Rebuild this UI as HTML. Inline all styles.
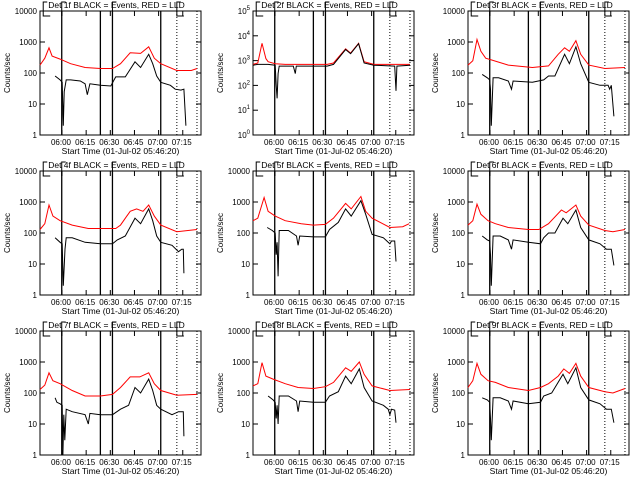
<!DOCTYPE html>
<html><head><meta charset="utf-8"><style>
html,body{margin:0;padding:0;background:#fff;}
svg{display:block;font-family:"Liberation Sans",sans-serif;}
</style></head><body>
<svg id="chart" width="640" height="480" viewBox="0 0 640 480"></svg>
<script>
const detNames = ["1f","2f","3f","4f","5f","6f","7f","8f","9f"];
const tickLabels = ["06:00","06:15","06:30","06:45","07:00","07:15"];
const tickMinutes = [13.67,28.67,43.67,58.67,73.67,88.67];
const solidMarkers = [13.5,37.5,45,75];
const dottedMarkers = [85,97.5];
const yDecadesStd = [0,1,2,3,4];
const yDecadesP2 = [0,1,2,3,4,5];
const red1 = [[0,180],[3,300],[5.6,650],[7.5,350],[12.5,280],[19,200],[28,150],[37.5,140],[45,140],[50,200],[56,450],[62.5,430],[67.5,700],[71,300],[75,200],[85,120],[94,120],[97.5,140]];
const black1 = [[9.4,80],[12.5,60],[13.8,50],[14.5,2],[15,25],[16.3,60],[19,60],[25,55],[28,45],[29.4,20],[31,45],[37.5,40],[44,38],[47,75],[53,75],[59,230],[62.5,150],[67.5,400],[70,200],[72.5,80],[75,50],[81,40],[84,30],[87.5,28],[89.4,30],[90.6,2]];
const red2 = [[0,700],[3,800],[5.6,5000],[8,1200],[9.4,900],[13.8,750],[20,700],[46,700],[50,800],[57.5,3000],[60.6,2000],[65.6,5000],[69,900],[75,700],[97.5,700]];
const black2 = [[0,650],[3,700],[5.6,700],[9.4,700],[13.8,650],[14.4,100],[15,30],[15.6,300],[16.3,600],[25,600],[26.3,300],[26.9,600],[46,600],[50,700],[57.5,2800],[60.6,1900],[65.6,4800],[69,800],[75,650],[88,600],[88.8,60],[89.4,600],[97.5,650]];
const red3 = [[0,180],[3,250],[5.6,1200],[8,500],[11,300],[15,260],[25,180],[40,150],[50,170],[56,400],[60,650],[63,500],[67,1100],[70,400],[75,180],[85,140],[97.5,150]];
const black3 = [[8.8,90],[12,70],[13.5,60],[14,30],[14.5,2],[15.6,70],[19,70],[25,55],[27,30],[28,55],[40,50],[47,60],[50,80],[54,80],[60,400],[63,200],[67,700],[70,200],[75,50],[82,40],[87,40],[88,30],[89,40],[90.6,4]];
const red4 = [[0,130],[3,200],[5.6,800],[8,350],[12.5,250],[20,180],[30,140],[40,140],[47,140],[50,180],[56,500],[60,600],[64,500],[67.5,800],[71,350],[75,180],[85,110],[97.5,130]];
const black4 = [[9.4,70],[12.5,50],[13.8,45],[14.5,2],[15.5,30],[16.3,70],[20,70],[28,50],[37.5,45],[45,45],[48,60],[53,80],[59,300],[62.5,200],[67.5,600],[70,250],[72.5,80],[75,50],[82,40],[86,25],[88,30],[89,30],[89.4,5]];
const red5 = [[0,250],[3,300],[6.9,1400],[9.4,500],[13.8,350],[20,250],[30,200],[37.5,180],[45,190],[50,300],[57.5,900],[61,600],[67,1500],[70,500],[74,300],[85,150],[93,160],[97,200]];
const black5 = [[8.8,150],[12,120],[13.8,100],[14.4,20],[15,50],[15.6,4],[16.3,120],[22,120],[27,80],[28,40],[29,80],[37.5,75],[45,75],[47.5,130],[53,220],[57.5,600],[61,350],[67,1100],[70,400],[74,90],[81,70],[84,50],[85,45],[86,55],[88,55],[88.8,12]];
const red6 = [[0,180],[3,250],[5.6,850],[8,400],[12.5,250],[17,200],[25,150],[37.5,130],[44,130],[50,200],[58,550],[61,450],[67,800],[70,350],[75,180],[85,120],[90,110],[97.5,130]];
const black6 = [[8.8,80],[12,60],[13.5,55],[14,20],[14.5,2],[15.6,80],[20,80],[25,60],[27,30],[28,60],[37.5,50],[45,45],[47,70],[50,100],[54,100],[59,300],[62,200],[67,550],[70,150],[75,60],[82,45],[86,30],[89,30],[90.6,9]];
const red7 = [[0,130],[3,180],[5.6,450],[8,250],[12.5,200],[20,120],[28,80],[37.5,80],[45,90],[50,150],[56,330],[62,330],[67.5,450],[71,200],[75,120],[85,85],[97.5,90]];
const black7 = [[9.4,70],[10.5,50],[12.5,45],[13.8,40],[14.2,1],[14.8,20],[15.4,3],[16.3,30],[20,25],[28,20],[30,10],[31,22],[37.5,20],[45,20],[50,30],[55,40],[59,150],[62.5,100],[67.5,280],[70,120],[72.5,40],[75,30],[82,20],[86,25],[89,25],[89.4,4]];
const red8 = [[0,170],[3,200],[5.6,950],[8,350],[12.5,280],[20,200],[28,150],[37.5,140],[45,160],[50,220],[57.5,650],[61,500],[66,1000],[69,400],[74,170],[85,120],[97.5,130]];
const black8 = [[9.4,80],[12.5,60],[13.8,50],[14.4,15],[15,40],[15.6,10],[16.3,80],[22,80],[27,55],[28,25],[29,55],[37.5,50],[45,50],[47.5,80],[53,110],[57.5,350],[61,200],[66,600],[69,150],[74,55],[81,40],[84,30],[85,20],[86,30],[88,28],[88.8,11]];
const red9 = [[0,150],[3,250],[5.6,900],[8,400],[12.5,250],[17,220],[25,150],[37.5,120],[45,150],[50,200],[56,350],[59.5,600],[63,430],[67,900],[70,350],[75,150],[85,110],[90,100],[97.5,140]];
const black9 = [[8.8,70],[12,60],[13.5,50],[14,15],[14.5,3],[15.6,70],[20,70],[25,55],[27,30],[28,55],[37.5,45],[45,50],[47,80],[52,100],[59,400],[62,200],[67,650],[70,150],[75,60],[82,45],[86,30],[89,30],[90.6,11]];
const redSeries = [red1,red2,red3,red4,red5,red6,red7,red8,red9];
const blackSeries = [black1,black2,black3,black4,black5,black6,black7,black8,black9];

const NS = "http://www.w3.org/2000/svg";
const svg = document.getElementById("chart");
const colLeft = [40,253,468], rowTop = [11,171,331], W = 161, H = 124, XMAX = 100;
function mk(tag, attrs, parent){ const e=document.createElementNS(NS,tag); for(const k in attrs) e.setAttribute(k,attrs[k]); parent.appendChild(e); return e; }

for(let p=0;p<9;p++){
  const L = colLeft[p%3], T = rowTop[Math.floor(p/3)];
  const decades = p===1 ? yDecadesP2 : yDecadesStd;
  const maxD = decades[decades.length-1];
  const xs = m => L + m/XMAX*W;
  const ys = v => T + H - (Math.log10(Math.max(v,1))/maxD)*H;
  const g = mk("g",{},svg);
  
  
  const t = mk("text",{x:L+W/2-4,y:T-3,"font-size":"8.5","text-anchor":"middle"},g);
  t.textContent = "Det "+detNames[p]+" BLACK = Events, RED = LLD";
  
  
  const fr = mk("rect",{x:L,y:T,width:W,height:H,fill:"none",stroke:"#000","stroke-width":"1"},g);
  
  
  decades.forEach(d=>{
    const y = ys(Math.pow(10,d));
    mk("line",{x1:L,x2:L+5,y1:y,y2:y,stroke:"#000"},g);
    mk("line",{x1:L+W-5,x2:L+W,y1:y,y2:y,stroke:"#000"},g);
    const lb = mk("text",{x:L-3,y:y+3,"font-size":"8","text-anchor":"end"},g);
    
    
    if(p===1){ lb.textContent="10"; const s=mk("tspan",{dy:"-4","font-size":"6"},lb); s.textContent=String(d); lb.setAttribute("x",L-3); }
    else lb.textContent = String(Math.pow(10,d));
  });
  tickMinutes.forEach((m,i)=>{
    const x = xs(m);
    mk("line",{x1:x,x2:x,y1:T+H,y2:T+H-5,stroke:"#000"},g);
    mk("line",{x1:x,x2:x,y1:T,y2:T+5,stroke:"#000"},g);
    const lb = mk("text",{x:x-1,y:T+H+10,"font-size":"8","text-anchor":"middle"},g);
    lb.textContent = tickLabels[i];
    
    
  });
  const xt = mk("text",{x:L+W/2,y:T+H+19,"font-size":"8.5","text-anchor":"middle"},g);
  xt.textContent = "Start Time (01-Jul-02 05:46:20)";
  
  
  const yt = mk("text",{x:0,y:0,"font-size":"8","text-anchor":"middle",transform:"translate("+(L-30)+","+(T+H/2)+") rotate(-90)"},g);
  yt.textContent = "Counts/sec";
  
  
  solidMarkers.forEach(m=>{
    const x=xs(m);
    const ln = mk("line",{x1:x,x2:x,y1:T,y2:T+H,stroke:"#000","stroke-width":"1.3"},g);
    
    
  });
  dottedMarkers.forEach(m=>{
    const x=xs(m);
    const ln = mk("line",{x1:x,x2:x,y1:T,y2:T+H,stroke:"#000","stroke-dasharray":"1,2"},g);
    
    
  });
  [[2,1],[13.5,0],[45,0],[85,1]].forEach(b=>{
    const x=xs(b[0]);
    mk("polyline",{points:(x+4)+","+(T-9)+" "+x+","+(T-9)+" "+x+","+(T+5)+" "+(x+(b[1]?7:0))+","+(T+5),fill:"none",stroke:"#000"},g);
  });
  const path = arr => arr.map((pt,i)=>(i?"L":"M")+xs(pt[0]).toFixed(1)+","+ys(pt[1]).toFixed(1)).join("");
  const rp = mk("path",{d:path(redSeries[p]),fill:"none",stroke:"#ff0000","stroke-width":"1"},g);
  
  
  const bp = mk("path",{d:path(blackSeries[p]),fill:"none",stroke:"#000","stroke-width":"1"},g);
  
  
}
</script>
</body></html>
